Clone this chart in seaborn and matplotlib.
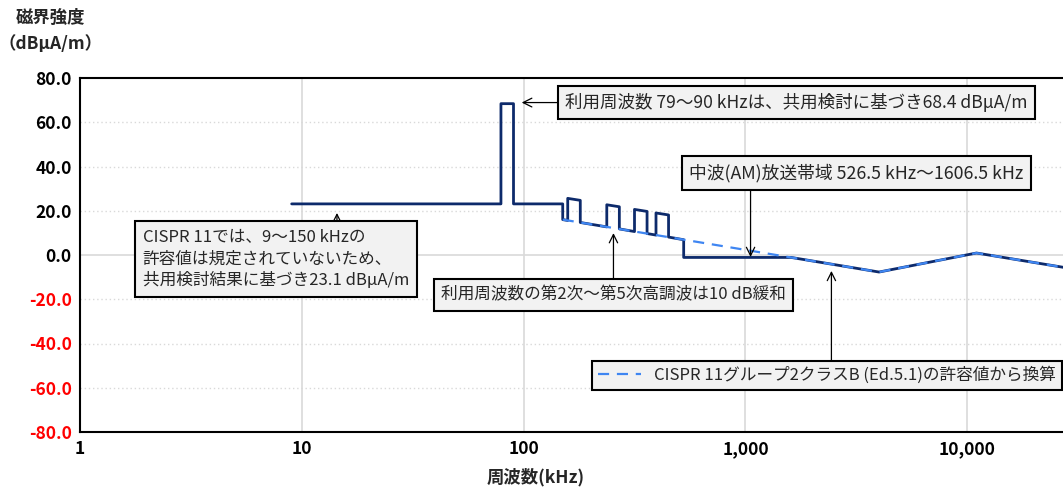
import numpy as np
import pandas as pd
import seaborn as sns
import matplotlib.pyplot as plt
from matplotlib.ticker import FuncFormatter, FixedLocator, NullLocator

# solid line: limit used in the study (kHz, dBuA/m)
limit_freq = [9, 79, 79, 90, 90, 150, 150, 158, 158, 180, 180, 237, 237, 270, 270,
              316, 316, 360, 360, 395, 395, 450, 450, 526.5, 526.5, 1606.5,
              4000, 11000, 30000]
limit_val = [23.1, 23.1, 68.4, 68.4, 23.1, 23.1, 16.0, 15.6, 25.6, 24.7, 14.7,
             12.7, 22.7, 21.8, 11.8, 10.6, 20.6, 19.7, 9.7, 9.0, 19.0, 18.1, 8.1,
             6.9, -1.1, -1.1, -7.7, 0.9, -6.3]

# dashed line: CISPR 11 group 2 class B converted
cispr_freq = [150, 4000, 11000, 30000]
cispr_val = [16.0, -7.7, 0.9, -6.3]

y_ticks = [-80, -60, -40, -20, 0, 20, 40, 60, 80]
x_ticks = [1, 10, 100, 1000, 10000]

navy = '#0d2a6b'
blue = '#3f86f2'
grid_c = '#d9d9d9'
box_c = '#f2f2f2'

sns.set_theme(style='white')
plt.rcParams['font.family'] = ['Noto Sans CJK JP', 'DejaVu Sans']

fig = plt.figure(figsize=(10.63, 4.87), dpi=100)
ax = fig.add_axes([80 / 1063, 1 - 432 / 487, 1 - 80 / 1063, (432 - 78) / 487])

df_lim = pd.DataFrame({'freq': limit_freq, 'val': limit_val})
df_cis = pd.DataFrame({'freq': cispr_freq, 'val': cispr_val})

sns.lineplot(data=df_lim, x='freq', y='val', ax=ax, color=navy, linewidth=2.0,
             estimator=None, sort=False, zorder=3)
sns.lineplot(data=df_cis, x='freq', y='val', ax=ax, color=blue, linewidth=1.6,
             estimator=None, sort=False, zorder=4, dashes=False,
             label='CISPR 11グループ2クラスB (Ed.5.1)の許容値から換算')
ax.lines[-1].set_dashes([5, 3.5])

ax.set_xscale('log')
ax.set_xlim(1, 27000)
ax.set_ylim(-80, 80)
ax.xaxis.set_major_locator(FixedLocator(x_ticks))
ax.xaxis.set_minor_locator(NullLocator())
ax.xaxis.set_major_formatter(FuncFormatter(lambda v, p: f'{int(v):,}'))
ax.set_yticks(y_ticks)
ax.yaxis.set_major_formatter(FuncFormatter(lambda v, p: f'{v:.1f}'))

# grid lines
for f in x_ticks[1:]:
    ax.axvline(f, color=grid_c, lw=1.2, zorder=1)
for v in y_ticks[1:-1]:
    if v == 0:
        ax.axhline(v, color=grid_c, lw=1.2, zorder=1)
    else:
        ax.axhline(v, color=grid_c, lw=1.0, ls=(0, (1, 2)), zorder=1)

for s in ['left', 'bottom', 'top']:
    ax.spines[s].set_color('black')
    ax.spines[s].set_linewidth(1.5)
ax.spines['right'].set_visible(False)

ax.tick_params(axis='both', length=0, labelsize=12.5, pad=6)
for lab in ax.get_yticklabels() + ax.get_xticklabels():
    lab.set_fontweight('bold')
    lab.set_color('black')
for lab, v in zip(ax.get_yticklabels(), y_ticks):
    if v < 0:
        lab.set_color('#ff0000')

ax.set_xlabel('')
ax.set_ylabel('')

fig.text(50 / 1063, 1 - 31 / 487, '磁界強度\n（dBμA/m）', ha='center', va='center',
         multialignment='center', fontsize=12.5, fontweight='bold', linespacing=1.55)
fig.text(536 / 1063, 1 - 477 / 487, '周波数(kHz)', ha='center', va='center',
         fontsize=12.5, fontweight='bold')

bbox = dict(boxstyle='square,pad=0.45', fc=box_c, ec='black', lw=1.5)
arrow = dict(arrowstyle='->,head_length=0.5,head_width=0.25', color='black', lw=0.9,
             shrinkA=0, shrinkB=0)

ax.annotate('利用周波数 79～90 kHzは、共用検討に基づき68.4 dBμA/m',
            xy=(98, 68.9), xytext=(1698, 68.9), fontsize=12.6, ha='center', va='center',
            bbox=dict(boxstyle='square,pad=0.42', fc=box_c, ec='black', lw=1.5),
            arrowprops=arrow, zorder=6)

ax.text(3162, 37.1, '中波(AM)放送帯域 526.5 kHz～1606.5 kHz', fontsize=12.8,
        ha='center', va='center',
        bbox=dict(boxstyle='square,pad=0.42', fc=box_c, ec='black', lw=1.5), zorder=6)
ax.annotate('', xy=(1054, -0.9), xytext=(1054, 30.3), arrowprops=arrow, zorder=5)

ax.text(7.64, -1.8, 'CISPR 11では、9～150 kHzの\n許容値は規定されていないため、\n共用検討結果に基づき23.1 dBμA/m',
        fontsize=12, ha='center', va='center', multialignment='left',
        linespacing=1.35, bbox=bbox, zorder=6)
ax.annotate('', xy=(14.4, 19.0), xytext=(14.4, 9.9), arrowprops=arrow, zorder=5)

ax.text(254, -18.1, '利用周波数の第2次～第5次高調波は10 dB緩和', fontsize=12,
        ha='center', va='center', bbox=bbox, zorder=6)
ax.annotate('', xy=(254, 9.9), xytext=(254, -11.3), arrowprops=arrow, zorder=5)

ax.annotate('', xy=(2440, -7.2), xytext=(2440, -47.5), arrowprops=arrow, zorder=5)

leg = ax.legend(loc='center', bbox_to_anchor=(827 / 1063, 1 - 375.5 / 487),
                bbox_transform=fig.transFigure, fontsize=12, fancybox=False,
                framealpha=1, handlelength=2.6, borderpad=0.35)
leg.get_frame().set_facecolor(box_c)
leg.get_frame().set_edgecolor('black')
leg.get_frame().set_linewidth(1.5)
leg.set_zorder(7)

fig.savefig('out.png', dpi=100)
